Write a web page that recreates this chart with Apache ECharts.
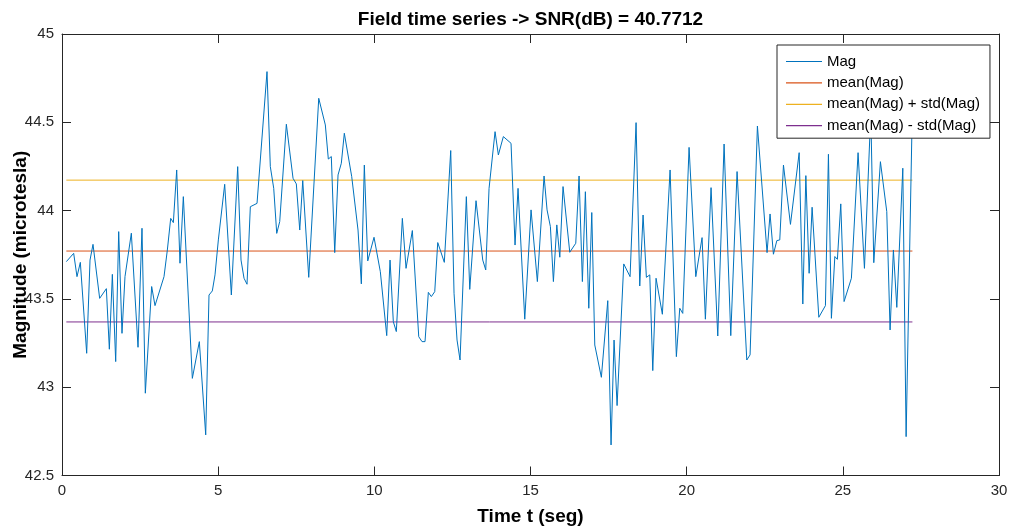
<!DOCTYPE html>
<html>
<head>
<meta charset="utf-8">
<script src="https://cdn.jsdelivr.net/npm/echarts@6/dist/echarts.min.js"></script>
<style>
  html, body { margin: 0; padding: 0; background: #fff; }
  #chart { width: 1012px; height: 531px; }
</style>
</head>
<body>
<div id="chart"></div>
<script>
// ---- Data ----
const timeValues = [
  0.139, 0.374, 0.480, 0.587, 0.790, 0.897, 0.993, 1.206, 1.420, 1.516, 1.612, 1.719, 1.815, 1.921, 2.017, 2.220, 2.434, 2.561, 2.668, 2.871, 2.978,
  3.266, 3.373, 3.480, 3.565, 3.672, 3.778, 3.885, 4.173, 4.397, 4.601, 4.707, 4.813, 4.899, 5.006, 5.209, 5.422, 5.625, 5.732, 5.828, 5.924, 6.030,
  6.244, 6.564, 6.670, 6.779, 6.875, 6.971, 7.183, 7.397, 7.503, 7.612, 7.708, 7.900, 8.220, 8.431, 8.527, 8.623, 8.732, 8.838, 8.943, 9.039,
  9.276, 9.478, 9.584, 9.680, 9.789, 9.990, 10.192, 10.397, 10.503, 10.608, 10.704, 10.897, 11.015, 11.217, 11.422, 11.527, 11.623, 11.729, 11.825, 11.934, 12.030, 12.241,
  12.446, 12.552, 12.648, 12.744, 12.946, 13.055, 13.256, 13.471, 13.567, 13.673, 13.865, 13.971, 14.131, 14.377, 14.505, 14.601, 14.816, 15.018, 15.220, 15.434,
  15.530, 15.637, 15.733, 15.842, 15.938, 16.042, 16.257, 16.449, 16.555, 16.661, 16.757, 16.866, 16.962, 17.058, 17.269, 17.474, 17.579, 17.675, 17.772, 17.986, 18.188, 18.380, 18.498,
  18.604, 18.710, 18.819, 18.915, 19.020, 19.222, 19.469, 19.670, 19.779, 19.875, 20.077, 20.292, 20.493, 20.599, 20.781, 20.996, 21.198, 21.412, 21.614,
  21.925, 22.030, 22.265, 22.574, 22.670, 22.778, 22.887, 22.981, 23.099, 23.323, 23.602, 23.719, 23.816, 23.921, 24.016, 24.231, 24.443, 24.539, 24.634, 24.744,
  24.826, 24.934, 25.040, 25.274, 25.488, 25.692, 25.895, 25.991, 26.203, 26.407, 26.513, 26.619, 26.728, 26.920, 27.026, 27.228
];
const magValues = [
  43.711, 43.758, 43.626, 43.707, 43.192, 43.720, 43.809, 43.503, 43.558, 43.215, 43.639, 43.145, 43.881, 43.305, 43.626, 43.872, 43.226, 43.900, 42.966, 43.570, 43.462,
  43.626, 43.777, 43.956, 43.932, 44.230, 43.702, 44.079, 43.050, 43.258, 42.730, 43.522, 43.545, 43.636, 43.834, 44.149, 43.522, 44.249, 43.720, 43.617, 43.583, 44.022,
  44.041, 44.787, 44.249, 44.126, 43.871, 43.938, 44.489, 44.183, 44.151, 43.890, 44.170, 43.622, 44.636, 44.485, 44.292, 44.306, 43.762, 44.202, 44.268, 44.438,
  44.192, 43.890, 43.585, 44.258, 43.715, 43.849, 43.654, 43.292, 43.720, 43.371, 43.315, 43.956, 43.673, 43.887, 43.286, 43.258, 43.258, 43.537, 43.513, 43.541, 43.819, 43.707,
  44.340, 43.532, 43.267, 43.154, 44.079, 43.554, 44.056, 43.720, 43.664, 44.126, 44.447, 44.315, 44.419, 44.381, 43.805, 44.126, 43.385, 44.004, 43.598, 44.196,
  44.004, 43.909, 43.598, 43.919, 43.736, 44.136, 43.764, 43.815, 44.196, 43.598, 44.107, 43.447, 43.989, 43.239, 43.056, 43.490, 42.673, 43.267, 42.896, 43.698, 43.626, 44.498, 43.573,
  43.975, 43.622, 43.636, 43.094, 43.617, 43.413, 44.230, 43.173, 43.447, 43.418, 44.358, 43.626, 43.847, 43.385, 44.130, 43.290, 44.377, 43.292, 44.221,
  43.154, 43.183, 44.479, 43.762, 43.981, 43.753, 43.830, 43.834, 44.258, 43.922, 44.328, 43.471, 44.198, 43.645, 44.019, 43.396, 43.462, 44.319, 43.390, 43.740,
  43.724, 44.038, 43.485, 43.617, 44.328, 43.673, 44.550, 43.705, 44.277, 43.994, 43.324, 43.777, 43.452, 44.240, 42.720, 44.600
];
const meanMag = 43.771;
const stdMag = 0.4015;
const seriesNames = ['Mag', 'mean(Mag)', 'mean(Mag) + std(Mag)', 'mean(Mag) - std(Mag)'];
const seriesColors = ['#0072BD', '#D95319', '#EDB120', '#7E2F8E'];
const titleText = 'Field time series -> SNR(dB) = 40.7712';
const xName = 'Time t (seg)';
const yName = 'Magnitude (microtesla)';

// ---- Build ----
const magData = timeValues.map((t, i) => [t, magValues[i]]);
const t0 = timeValues[0];
const tEnd = timeValues[timeValues.length - 1];
const levels = [meanMag, meanMag + stdMag, meanMag - stdMag];

const FONT = '"Liberation Sans", Arial, Helvetica, sans-serif';
const AX = '#262626';

const chart = echarts.init(document.getElementById('chart'), null, { renderer: 'canvas' });

const commonTick = { show: true, inside: true, length: 9, lineStyle: { color: AX, width: 1 } };

const option = {
  animation: false,
  backgroundColor: '#ffffff',
  textStyle: { fontFamily: FONT },
  graphic: [{
    type: 'text',
    x: 530.5, y: 20,
    style: { text: titleText, font: 'bold 19px ' + FONT, fill: '#000', textAlign: 'center', textVerticalAlign: 'middle' }
  }],
  grid: { left: 62, right: 13, top: 34, bottom: 55.5, containLabel: false, outerBoundsMode: 'none' },
  xAxis: [{
    type: 'value', position: 'bottom', min: 0, max: 30, interval: 5,
    name: xName, nameLocation: 'middle', nameGap: 31.5, nameMoveOverlap: false,
    nameTextStyle: { fontSize: 19, fontWeight: 'bold', color: '#000', fontFamily: FONT },
    axisLine: { show: true, onZero: false, lineStyle: { color: AX, width: 1 } },
    axisTick: commonTick,
    axisLabel: { fontSize: 15, color: AX, margin: 8, fontFamily: FONT },
    splitLine: { show: false }
  }, {
    type: 'value', position: 'top', min: 0, max: 30, interval: 5,
    axisLine: { show: true, onZero: false, lineStyle: { color: AX, width: 1 } },
    axisTick: commonTick,
    axisLabel: { show: false },
    splitLine: { show: false }
  }],
  yAxis: [{
    type: 'value', position: 'left', min: 42.5, max: 45, interval: 0.5,
    name: yName, nameLocation: 'middle', nameGap: 31.5, nameRotate: 90, nameMoveOverlap: false,
    nameTextStyle: { fontSize: 19, fontWeight: 'bold', color: '#000', fontFamily: FONT },
    axisLine: { show: true, onZero: false, lineStyle: { color: AX, width: 1 } },
    axisTick: commonTick,
    axisLabel: { fontSize: 15, color: AX, margin: 8, fontFamily: FONT },
    splitLine: { show: false }
  }, {
    type: 'value', position: 'right', min: 42.5, max: 45, interval: 0.5,
    axisLine: { show: true, onZero: false, lineStyle: { color: AX, width: 1 } },
    axisTick: commonTick,
    axisLabel: { show: false },
    splitLine: { show: false }
  }],
  legend: {
    orient: 'vertical', left: 777, top: 45,
    itemWidth: 36, itemHeight: 14, itemGap: 6.4,
    padding: [9, 10, 5, 9],
    icon: 'path://M0,0L36,0L36,1.2L0,1.2Z',
    backgroundColor: '#ffffff', borderColor: AX, borderWidth: 1, borderRadius: 0,
    textStyle: { fontSize: 15, color: '#000', fontFamily: FONT },
    data: seriesNames,
    z: 10
  },
  series: [
    {
      name: seriesNames[0], type: 'line', data: magData, symbol: 'none', color: seriesColors[0],
      itemStyle: { color: seriesColors[0] },
      lineStyle: { color: seriesColors[0], width: 1 }, z: 5
    }
  ].concat(levels.map((lv, i) => ({
    name: seriesNames[i + 1], type: 'line', data: [[t0, lv], [tEnd, lv]], symbol: 'none', color: seriesColors[i + 1],
    itemStyle: { color: seriesColors[i + 1] },
    lineStyle: { color: seriesColors[i + 1], width: 1 }, z: 3
  })))
};
chart.setOption(option);
</script>
</body>
</html>
